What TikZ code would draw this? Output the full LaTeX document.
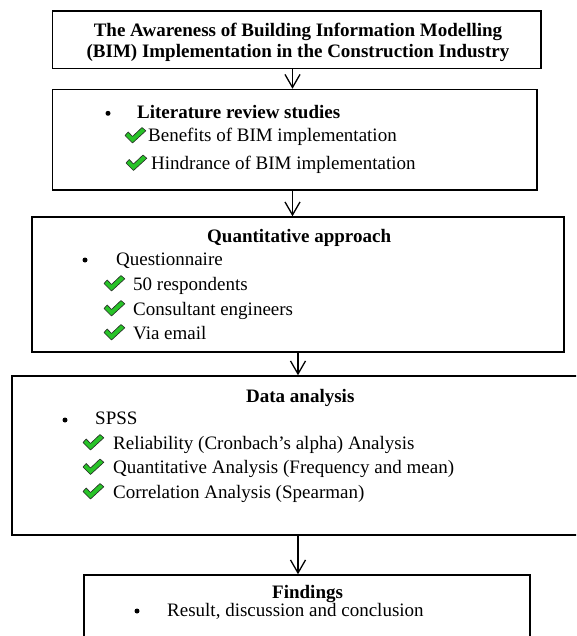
\documentclass[tikz,border=0pt]{standalone}
\usepackage{fontspec}
\setmainfont{Liberation Serif}
\usetikzlibrary{arrows.meta}
\definecolor{chkgreen}{RGB}{40,195,40}
\tikzset{
  box/.style={draw=black, line width=1.5pt, inner sep=0pt},
  txt/.style={inner sep=0pt, anchor=base west, font=\fontsize{19}{22}\selectfont},
  ctxt/.style={inner sep=0pt, anchor=base, font=\fontsize{19}{22}\selectfont\bfseries},
  arr/.style={line width=1.3pt, -{Straight Barb[length=13pt,width=15pt,line width=1.3pt]}},
  chk/.pic={\filldraw[fill=chkgreen, draw=black!85, line width=0.6pt, line join=round]
     (0,-6.5) -- (3.2,-10) -- (7.5,-5.5) -- (17,-14.5) -- (20.8,-11.2) -- (7.5,1) -- cycle;}
}
\begin{document}
\begin{tikzpicture}[x=1pt,y=-1pt]
\useasboundingbox (0,0) rectangle (576,636);
\clip (0,0) rectangle (576,636);
\fill[white] (0,0) rectangle (576,636);

% boxes
\node[box, minimum width=488.5pt, minimum height=57.3pt] (t) at (296.75,39.65) {};
\node[box, minimum width=484.5pt, minimum height=100.5pt] (b2) at (294.75,139.75) {};
\node[box, minimum width=532pt, minimum height=135pt] (b3) at (298,284.5) {};
\node[box, minimum width=628pt, minimum height=159pt] (b4) at (326,455.5) {};
\node[box, minimum width=446pt, minimum height=85pt] (b5) at (307,617.5) {};

% arrows
\coordinate (ax1) at (292.5,0);
\coordinate (ax2) at (298,0);
\draw[arr] (ax1 |- t.south) -- (ax1 |- b2.north);
\draw[arr] (ax1 |- b2.south) -- (ax1 |- b3.north);
\draw[arr] (ax2 |- b3.south) -- (ax2 |- b4.north);
\draw[arr] (ax2 |- b4.south) -- (ax2 |- b5.north);

% title
\node[ctxt] (t1) at (298,36.7) {The Awareness of Building Information Modelling};
\node[ctxt] (t2) at (298,57.7) {(BIM) Implementation in the Construction Industry};

% box 2
\fill (108,113.3) circle[radius=2.5pt];
\node[txt, font=\fontsize{19}{22}\selectfont\bfseries] (l1) at (137,118.3) {Literature review studies};
\pic at (125,142) {chk};
\node[txt] (l2) at (148,142) {Benefits of BIM implementation};
\pic at (126,169.5) {chk};
\node[txt] (l3) at (151,169.5) {Hindrance of BIM implementation};

% box 3
\node[txt, font=\fontsize{19}{22}\selectfont\bfseries] (q0) at (207,242) {Quantitative approach};
\fill (85,260) circle[radius=2.5pt];
\node[txt] (q1) at (116,265) {Questionnaire};
\pic at (104,290) {chk};
\node[txt] (q2) at (133,290) {50 respondents};
\pic at (104,315) {chk};
\node[txt] (q3) at (133,315) {Consultant engineers};
\pic at (104,339) {chk};
\node[txt] (q4) at (133,339) {Via email};

% box 4
\node[txt, font=\fontsize{19}{22}\selectfont\bfseries] (d0) at (246,402) {Data analysis};
\fill (65,420) circle[radius=2.5pt];
\node[txt] (d1) at (95,424.5) {SPSS};
\pic at (83,449) {chk};
\node[txt] (d2) at (113,449) {Reliability (Cronbach’s alpha) Analysis};
\pic at (83,473.5) {chk};
\node[txt] (d3) at (113,473.5) {Quantitative Analysis (Frequency and mean)};
\pic at (83,498) {chk};
\node[txt] (d4) at (113,498) {Correlation Analysis (Spearman)};

% box 5
\node[txt, font=\fontsize{19}{22}\selectfont\bfseries] (f0) at (272,598) {Findings};
\fill (137,611) circle[radius=2.5pt];
\node[txt] (f1) at (167,616.5) {Result, discussion and conclusion};
\end{tikzpicture}
\end{document}
